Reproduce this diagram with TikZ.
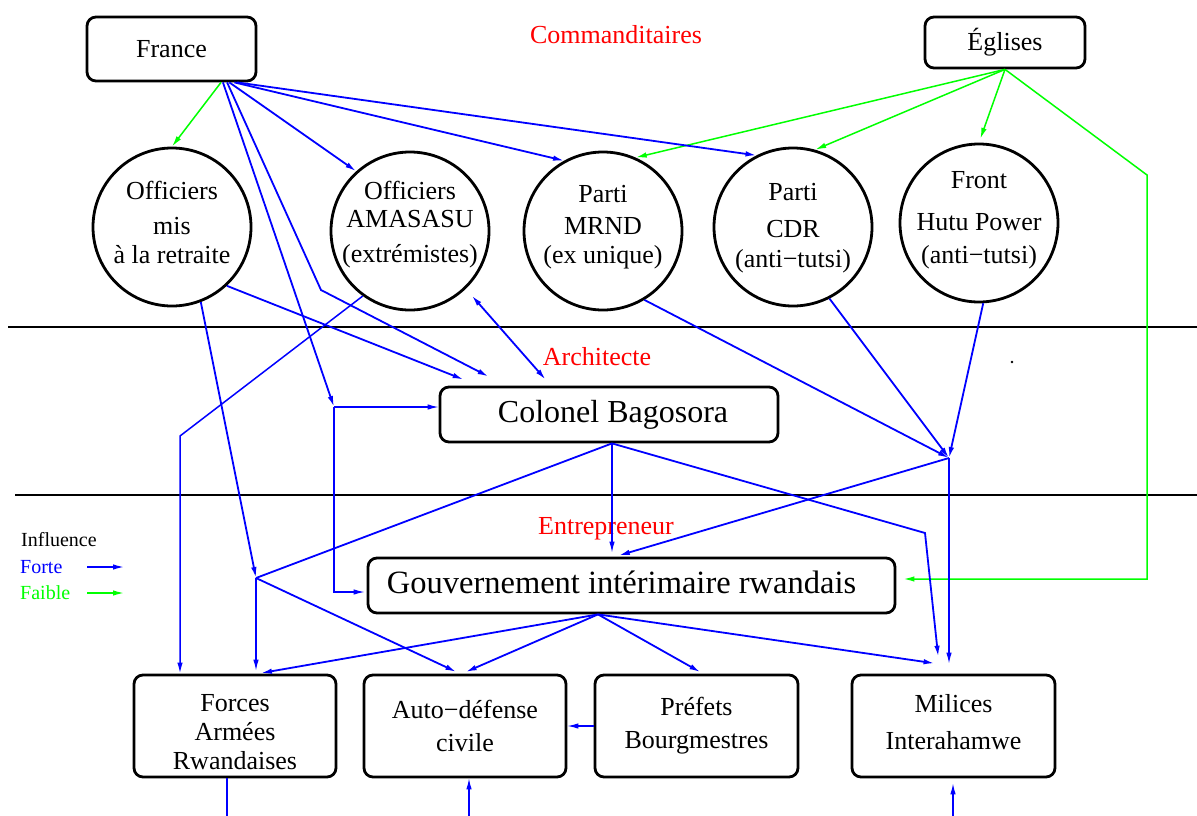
\documentclass[tikz,border=0pt]{standalone}
\usepackage{fontspec}
\setmainfont{Liberation Serif}
\usetikzlibrary{arrows.meta,calc}
\definecolor{fblue}{RGB}{0,0,255}
\definecolor{fgreen}{RGB}{0,255,0}
\definecolor{fred}{RGB}{255,0,0}
\begin{document}
\begin{tikzpicture}[x=1pt,y=-1pt,
  >={Latex[length=11pt,width=5.5pt]},
  box/.style={draw,rounded corners=9pt,line width=2.8pt,inner sep=0pt,align=center},
  txt/.style={font=\fontsize{26}{32}\selectfont},
  ring/.style={draw,circle,line width=2.8pt,minimum size=158pt,inner sep=0pt},
  ringtext/.style={align=center,inner sep=0pt,font=\fontsize{26}{32}\selectfont},
  strong/.style={draw=fblue,line width=1.8pt,->},
  strongthin/.style={draw=fblue,line width=1.2pt,->},
  weak/.style={draw=fgreen,line width=1.5pt,->},
  level/.style={text=fred,inner sep=0pt,font=\fontsize{26}{30}\selectfont},
  legend/.style={anchor=west,inner sep=0pt,font=\fontsize{20}{24}\selectfont},
  sep/.style={line width=2.4pt},
]
\useasboundingbox (0,0) rectangle (1197,816);
\fill[white] (0,0) rectangle (1197,816);

% separators
\coordinate (s1a) at (8,327); \coordinate (s1b) at (1197,327);
\coordinate (s2a) at (15,495); \coordinate (s2b) at (1197,495);
\draw[sep] (s1a) -- (s1b);
\draw[sep] (s2a) -- (s2b);

% level labels
\node[level] (lcom) at (616,35) {Commanditaires};
\node[level] (larch) at (597,357) {Architecte};
\node[level] (lent) at (606,529) {Entrepreneur};

% top boxes
\node[box,txt,minimum width=169pt,minimum height=64pt] (france) at (171.5,49) {France};
\node[box,txt,minimum width=160pt,minimum height=51pt] (eglises) at (1005,42.5) {Églises};

% circles
\node[ring,label={[ringtext,yshift=5pt]center:{Officiers\\[3pt]mis\\[-3pt]à la retraite}}] (mis) at (172,227) {};
\node[ring,label={[ringtext,yshift=6pt]center:{Officiers\\[-4pt]AMASASU\\[3pt](extrémistes)}}] (ama) at (410,231) {};
\node[ring,label={[ringtext,yshift=4pt]center:{Parti\\MRND\\[-3pt](ex unique)}}] (mrnd) at (603,231) {};
\node[ring,label={[ringtext,yshift=-1pt]center:{Parti\\[5pt]CDR\\[-2pt](anti−tutsi)}}] (cdr) at (793,227) {};
\node[ring,label={[ringtext,yshift=3pt]center:{Front\\[10pt]Hutu Power\\[1pt](anti−tutsi)}}] (front) at (979,223) {};

% middle boxes
\node[box,minimum width=338pt,minimum height=55pt,
  label={[inner sep=0pt,xshift=4pt,font=\fontsize{32}{36}\selectfont]center:Colonel Bagosora}] (colonel) at (609,414.5) {};
\node[box,minimum width=527pt,minimum height=55pt,
  label={[inner sep=0pt,xshift=-10pt,yshift=3pt,font=\fontsize{32.5}{36}\selectfont]center:Gouvernement intérimaire rwandais}] (gov) at (631.5,585.5) {};

% bottom boxes
\node[box,minimum width=202pt,minimum height=102pt,
  label={[align=center,inner sep=0pt,yshift=-6pt,font=\fontsize{26}{29}\selectfont]center:{Forces\\Armées\\Rwandaises}}] (far) at (235,726) {};
\node[box,minimum width=202pt,minimum height=102pt,font=\fontsize{26}{33}\selectfont] (adc) at (465,726) {Auto−défense\\civile};
\node[box,minimum width=203pt,minimum height=102pt,font=\fontsize{26}{33}\selectfont] (pref) at (696.5,726) {Préfets\\Bourgmestres};
\node[box,minimum width=203pt,minimum height=102pt,
  label={[align=center,inner sep=0pt,yshift=4pt,font=\fontsize{26}{33}\selectfont]center:{Milices\\[4pt]Interahamwe}}] (mil) at (953.5,726) {};

% legend
\node[legend] (linf) at (21,540) {Influence};
\node[legend,text=fblue] (lfor) at (20,567) {Forte};
\node[legend,text=fgreen] (lfai) at (20,593) {Faible};
\coordinate (legx) at (87,0);
\draw[strong,line width=1.4pt] (legx |- lfor) -- ++(37,0);
\draw[weak,line width=1.4pt] (legx |- lfai) -- ++(37,0);

% stray dot
\node[circle,fill,inner sep=0.9pt] (dot) at (1012,362) {};

% junctions and bends
\coordinate (P1) at (334,407);
\coordinate (P2) at (256,578);
\coordinate (P3) at (949,458);
\coordinate (bB) at (321,290);
\coordinate (bA) at (180,436);
\coordinate (bM) at (925,533);
\coordinate (gC) at (1147,175);
\coordinate (Cs) at ([xshift=3pt]colonel.south);
\coordinate (G) at ([xshift=-33.5pt]gov.south);

% green (faible)
\draw[weak] (france.-34) -- (mis.north);
\draw[weak] (eglises.south) -- (mrnd.66);
\draw[weak] (eglises.south) -- (cdr.74);
\draw[weak,shorten >=4pt] (eglises.south) -- (front.north);
\draw[weak,shorten >=7pt] (eglises.south) -- (gC) |- ([yshift=6.5pt]gov.east);

% blue from France
\draw[strong] (france.-30) -- (ama.132);
\draw[strong] (france.-28.5) -- (mrnd.119);
\draw[strong] (france.-27) -- (cdr.117);
\draw[strong] (france.-33) -- (P1);
\draw[strong] (france.-31) -- (bB) -- ([xshift=50pt,yshift=9pt]colonel.north west);
\draw[strongthin] (P1) -- (P1 -| colonel.west);
\draw[strongthin,shorten >=2pt] (P1) |- ([yshift=-6.5pt]gov.west);

% from retired officers
\draw[strong] (mis.-47) -- ([xshift=25pt,yshift=6pt]colonel.north west);
\draw[strong] (mis.-69) -- (P2);

% from AMASASU
\draw[strong,line width=1.5pt] (ama.-126) -- (bA) -- (bA |- far.north);
\draw[strong,<->,shorten <=9pt] (ama.-46) -- ([xshift=107pt,yshift=6pt]colonel.north west);

% parties to P3
\draw[strong] (mrnd.-59) -- (P3);
\draw[strong] (cdr.-63) -- (P3);
\draw[strong] (front.-87) -- (P3);
\draw[strongthin,shorten >=10pt] (P3) -- (P3 |- mil.north);
\draw[strong,shorten >=4pt] (P3) -- ([xshift=-16.5pt]gov.north);

% from Colonel
\draw[strongthin,shorten >=4pt] (Cs) -- (Cs |- gov.north);
\draw[strong,shorten >=17pt] (Cs) -- (bM) -- ([xshift=-13.5pt]mil.north);
\draw[strong,-] (Cs) -- (P2);

% from P2
\draw[strongthin,shorten >=3pt] (P2) -- (P2 |- far.north);
\draw[strong,shorten >=4pt] (P2) -- ([xshift=-5pt]adc.north);

% from government
\draw[strong,shorten >=3pt] (G) -- ([xshift=23pt]far.north);
\draw[strong,shorten >=4pt] (G) -- ([xshift=-3pt]adc.north);
\draw[strong,shorten >=3pt] (G) -- ([xshift=6.5pt]pref.north);
\draw[strong,shorten >=2pt] (G) -- ([xshift=-17pt,yshift=10pt]mil.north);

% bottom row
\draw[strongthin] (pref.west) -- (adc.east);
\coordinate (farout) at (227,816);
\draw[fblue,line width=1.2pt] (farout |- far.south) -- (farout);
\coordinate (adcin) at (469,816);
\draw[strongthin] (adcin) -- (adcin |- adc.south);
\coordinate (milin) at (953,816);
\draw[strongthin,shorten >=5pt] (milin) -- (milin |- mil.south);
\end{tikzpicture}
\end{document}
